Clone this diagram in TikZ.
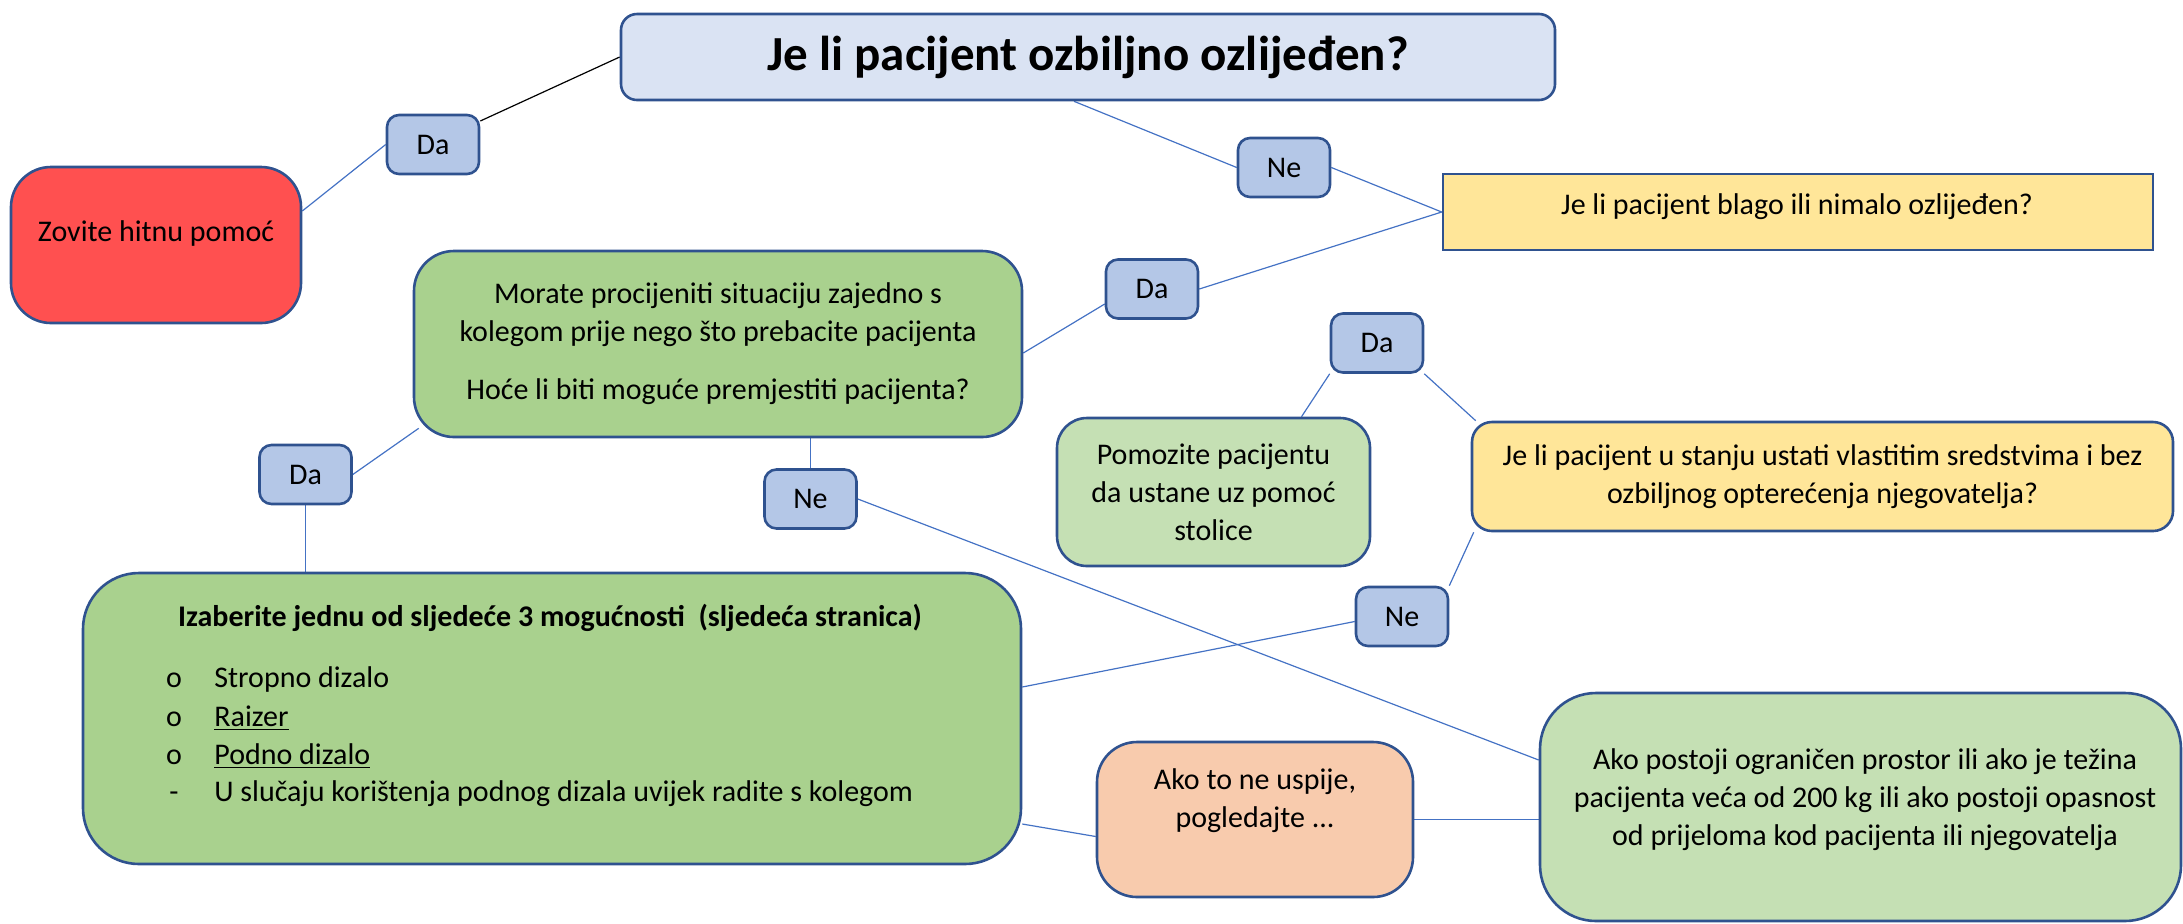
\documentclass[tikz,border=0pt]{standalone}
\usepackage{fontspec}
\setmainfont{Carlito}
\usetikzlibrary{calc}
\pgfdeclarelayer{background}
\pgfsetlayers{background,main}
\definecolor{bord}{HTML}{2F528F}
\definecolor{lin}{HTML}{4472C4}
\definecolor{titlefill}{HTML}{DAE3F3}
\definecolor{lblfill}{HTML}{B4C7E7}
\definecolor{redfill}{HTML}{FF5050}
\definecolor{yelfill}{HTML}{FFE699}
\definecolor{grnA}{HTML}{A9D18E}
\definecolor{grnB}{HTML}{C5E0B4}
\definecolor{orgfill}{HTML}{F8CBAD}
\begin{document}
\begin{tikzpicture}[x=0.5pt,y=-0.5pt,
 box/.style={draw=bord, line width=1.3pt, inner sep=0pt, align=center, font=\fontsize{15}{19}\selectfont},
 lbl/.style={box, fill=lblfill, minimum width=46pt, minimum height=29.5pt, rounded corners=6pt},
 txt/.style={inner sep=0pt, align=center, font=\fontsize{15}{19}\selectfont},
 conn/.style={draw=lin, line width=0.6pt},
]
\useasboundingbox (0,0) rectangle (2183,923);

% boxes
\node[box, fill=titlefill, rounded corners=8pt, minimum width=467pt, minimum height=43pt, font=\fontsize{24.5}{29}\selectfont\bfseries] (title) at (1088,57) {Je li pacijent ozbiljno ozlijeđen?};

\node[box, fill=redfill, rounded corners=20pt, minimum width=145pt, minimum height=78pt] (red) at (156,245) {};
\node[txt] (redt) at (156,233) {Zovite hitnu pomoć};

\node[lbl] (daA) at (433,144.5) {Da};
\node[lbl] (neA) at (1284,167.5) {Ne};

\node[box, fill=yelfill, minimum width=355pt, minimum height=38pt] (y1) at (1798,212) {};
\node[txt] (y1t) at (1797,207) {Je li pacijent blago ili nimalo ozlijeđen?};

\node[lbl] (daB) at (1152,289) {Da};

\node[box, fill=grnA, rounded corners=20pt, minimum width=304pt, minimum height=93pt] (g1) at (718,344) {Morate procijeniti situaciju zajedno s\\kolegom prije nego što prebacite pacijenta\\[10pt]Hoće li biti moguće premjestiti pacijenta?};

\node[lbl] (daC) at (1377,343) {Da};

\node[box, fill=grnB, rounded corners=15pt, minimum width=156.5pt, minimum height=74pt] (pom) at (1213.5,492) {Pomozite pacijentu\\da ustane uz pomoć\\stolice};

\node[box, fill=yelfill, rounded corners=10pt, minimum width=350.5pt, minimum height=54.5pt] (y2) at (1822.5,476.5) {Je li pacijent u stanju ustati vlastitim sredstvima i bez\\ozbiljnog opterećenja njegovatelja?};

\node[lbl] (neB) at (1402,616.5) {Ne};
\node[lbl] (daD) at (305.5,474.5) {Da};
\node[lbl] (neC) at (810.5,499) {Ne};

\node[box, fill=grnA, rounded corners=28pt, minimum width=469pt, minimum height=145.5pt] (g2) at (552,718.5) {};
\node[txt, font=\fontsize{15}{19}\selectfont\bfseries, anchor=mid] (g2h) at (550,622) {Izaberite jednu od sljedeće 3 mogućnosti\ \ (sljedeća stranica)};
\node[txt, anchor=mid] (b1) at (174,683) {o};
\node[txt, anchor=mid west] (i1) at (214,683) {Stropno dizalo};
\node[txt, anchor=mid] (b2) at (174,722) {o};
\node[txt, anchor=mid west] (i2) at (214,722) {\underline{Raizer}};
\node[txt, anchor=mid] (b3) at (174,760) {o};
\node[txt, anchor=mid west] (i3) at (214,760) {\underline{Podno dizalo}};
\node[txt, anchor=mid] (b4) at (174,797) {-};
\node[txt, anchor=mid west] (i4) at (214,797) {U slučaju korištenja podnog dizala uvijek radite s kolegom};

\node[box, fill=orgfill, rounded corners=20pt, minimum width=158pt, minimum height=77.5pt] (org) at (1255,819.5) {};
\node[txt] (orgt) at (1255,801) {Ako to ne uspije,\\pogledajte ...};

\node[box, fill=grnB, rounded corners=28pt, minimum width=320.5pt, minimum height=114pt] (g3) at (1860.5,807) {};
\node[txt] (g3t) at (1865,800) {Ako postoji ograničen prostor ili ako je težina\\pacijenta veća od 200 kg ili ako postoji opasnost\\od prijeloma kod pacijenta ili njegovatelja};

% connectors
\begin{pgfonlayer}{background}
\draw[line width=0.6pt, black] (title.west) -- ($(daA.east)+(0,-23.5)$);
\draw[conn] (daA.west) -- ($(red.east)+(0,-34)$);
\draw[conn] ($(title.south)+(-14,0)$) -- (neA.west);
\draw[conn] (neA.east) -- (y1.west);
\draw[conn] (y1.west) -- (daB.east);
\draw[conn] ($(daB.west)+(0,15)$) -- ($(g1.east)+(0,9)$);
\draw[conn] (daC.south west) -- ($(pom.north)+(88,0)$);
\draw[conn] (daC.south east) -- ($(y2.north west)+(5,0)$);
\draw[conn] (neB.north east) -- ($(y2.south west)+(3,0)$);
\draw[conn] ($(neB.west)+(0,5)$) -- ($(g2.east)+(0,-31.5)$);
\draw[conn] (daD.east) -- ($(g1.south west)+(6,-10)$);
\draw[conn] (daD.south) -- (daD.south |- g2.north);
\draw[conn] (neC.north |- g1.south) -- (neC.north);
\draw[conn] (neC.east) -- ($(g3.west)+(0,-47)$);
\draw[conn] ($(g2.east)+(0,105.5)$) -- ($(org.west)+(0,17)$);
\draw[conn] (org.east) -- (org.east -| g3.west);
\end{pgfonlayer}
\end{tikzpicture}
\end{document}
